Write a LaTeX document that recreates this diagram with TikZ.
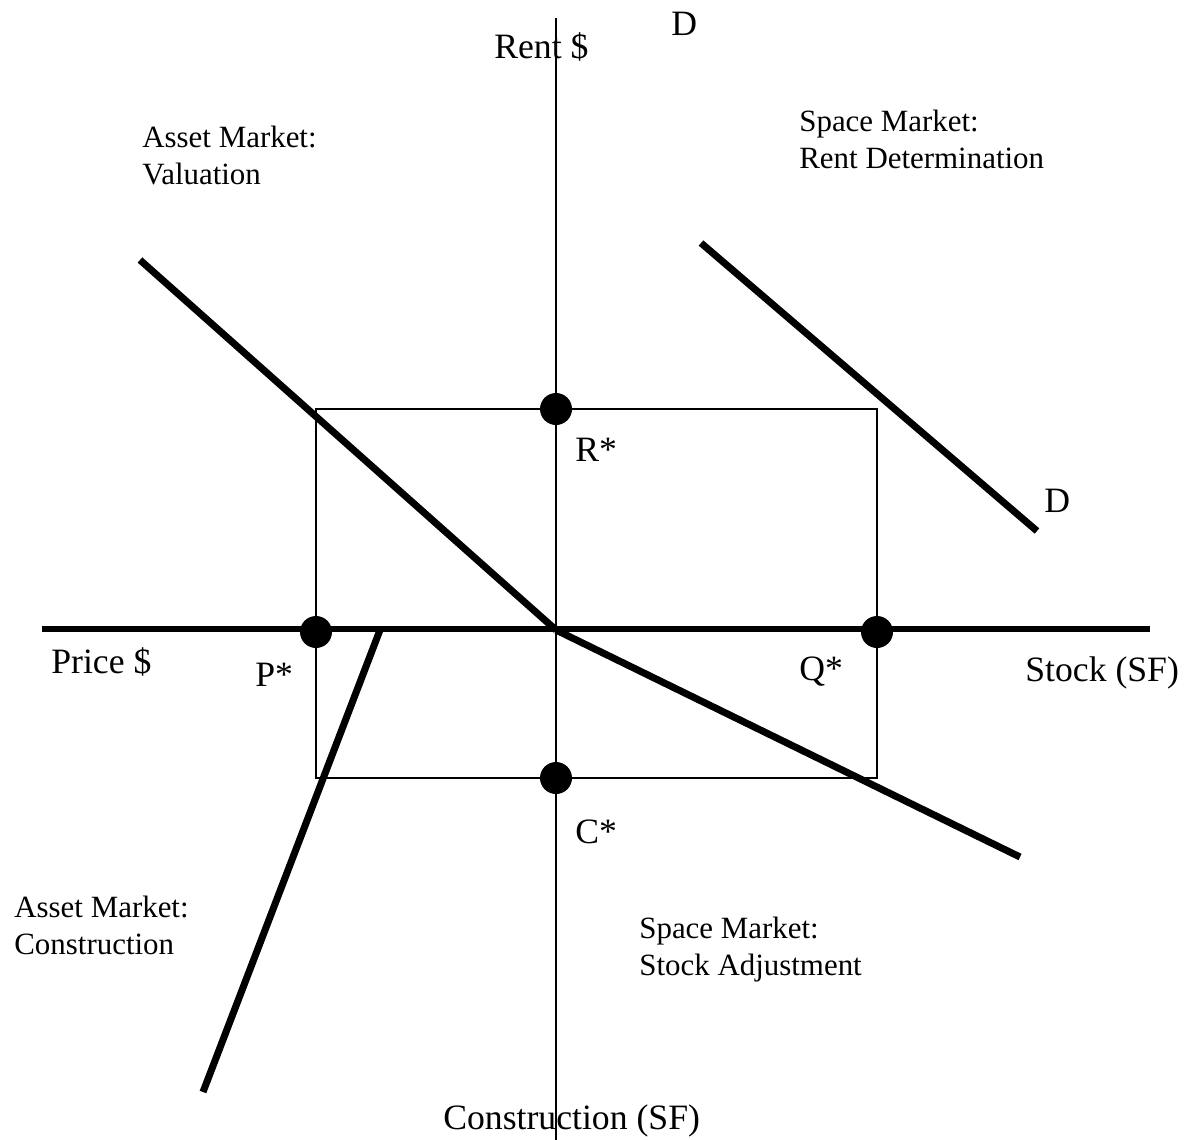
\documentclass[tikz,border=0pt]{standalone}
\usepackage{fontspec}
\setmainfont{Liberation Serif}
\usetikzlibrary{positioning}

\begin{document}
\begin{tikzpicture}[x=0.02cm,y=-0.02cm,
  lbl/.style={anchor=base west,inner sep=0pt,align=left,font=\fontsize{17.6}{21}\selectfont},
  axl/.style={anchor=base west,inner sep=0pt,font=\fontsize{20.3}{24}\selectfont},
  eq/.style={circle,fill=black,minimum size=0.64cm,inner sep=0pt},
  curve/.style={line width=4pt}]
\useasboundingbox (0,0) rectangle (1184,1140);
% axes
\coordinate (ytop) at (556,18);
\coordinate (ybot) at (556,1140);
\coordinate (xl) at (42,629);
\coordinate (xr) at (1150,629);
\coordinate (o) at (556,630);
\draw[line width=1.6pt] (ytop) -- (ybot);
\draw[line width=3.4pt] (xl) -- (xr);
% equilibrium points
\node[eq] (rstar) at (556,409) {};
\node[eq] (pstar) at (316,632) {};
\node[eq] (qstar) at (877,632) {};
\node[eq] (cstar) at (556,778) {};
\draw[line width=0.8pt] (pstar.center |- rstar.center) rectangle (qstar.center |- cstar.center);
% the four curves
\coordinate (val) at (140,260);
\coordinate (dtop) at (701,243);
\coordinate (dbot) at (1037,531);
\coordinate (stk) at (1020,857);
\coordinate (ctop) at (380,630);
\coordinate (cbot) at (203,1092);
\draw[curve] (val) -- (o);
\draw[curve] (dtop) -- (dbot);
\draw[curve] (o) -- (stk);
\draw[curve] (ctop) -- (cbot);
% labels
\node[axl] (rent) at (494,58) {Rent \$};
\node[axl] (d1) at (671,35) {D};
\node[axl] (d2) at (1044,512) {D};
\node[lbl] (valq) at (142,184) {Asset Market:\\Valuation};
\node[lbl] (rentq) at (799,168) {Space Market:\\Rent Determination};
\node[axl] (rl) at (575,461) {R*};
\node[axl] (price) at (51,673) {Price \$};
\node[axl] (pl) at (255,686) {P*};
\node[axl] (ql) at (799,680) {Q*};
\node[axl] (stock) at (1025,681) {Stock (SF)};
\node[axl] (cl) at (575,843) {C*};
\node[lbl] (consq) at (14,954) {Asset Market:\\Construction};
\node[lbl] (stkq) at (639,975) {Space Market:\\Stock Adjustment};
\node[axl] (cons) at (443,1129) {Construction (SF)};
\end{tikzpicture}
\end{document}
